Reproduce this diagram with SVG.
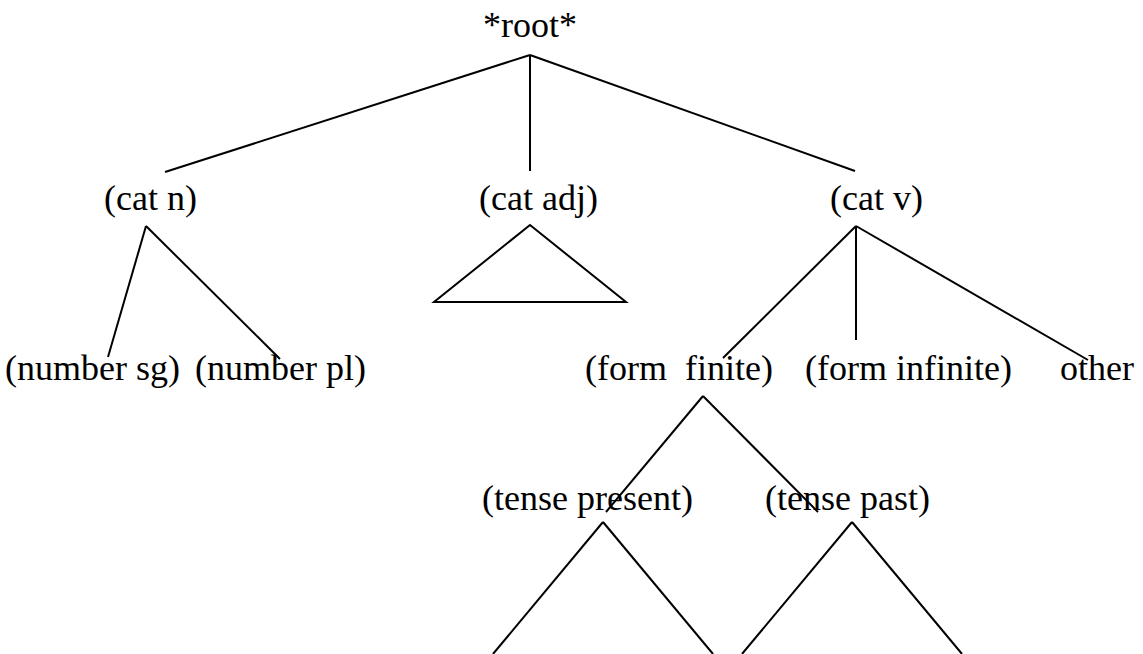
<svg xmlns="http://www.w3.org/2000/svg" width="1143" height="654" viewBox="0 0 1143 654">
<style>
text { font-family: "Liberation Serif", "Times New Roman", serif; font-size: 36px; fill: #000; white-space: pre; }
.e { stroke: #000; stroke-width: 2; fill: none; stroke-linecap: butt; }
</style>
<rect width="1143" height="654" fill="#fff"/>
<g id="connectors">
  <line class="e" x1="530" y1="55" x2="165" y2="172"/>
  <line class="e" x1="530" y1="55" x2="530" y2="171"/>
  <line class="e" x1="530" y1="55" x2="855" y2="171"/>
  <line class="e" x1="146" y1="226" x2="108" y2="357"/>
  <line class="e" x1="146" y1="226" x2="280" y2="359"/>
  <polygon class="e" points="530,225 434,302 626,302"/>
  <line class="e" x1="856" y1="226" x2="723" y2="358"/>
  <line class="e" x1="856" y1="226" x2="856" y2="340"/>
  <line class="e" x1="856" y1="226" x2="1088" y2="360"/>
  <line class="e" x1="703" y1="396" x2="606" y2="512"/>
  <line class="e" x1="703" y1="396" x2="818" y2="512"/>
  <line class="e" x1="603" y1="522" x2="493" y2="654"/>
  <line class="e" x1="603" y1="522" x2="713" y2="654"/>
  <line class="e" x1="852" y1="522" x2="742" y2="654"/>
  <line class="e" x1="852" y1="522" x2="962" y2="654"/>
</g>
<g id="root"><text x="483" y="37">*root*</text></g>
<g id="cat-n"><text x="104" y="210">(cat n)</text></g>
<g id="cat-adj"><text x="479" y="210">(cat adj)</text></g>
<g id="cat-v"><text x="830" y="210">(cat v)</text></g>
<g id="number-sg"><text x="5" y="380">(number sg)</text></g>
<g id="number-pl"><text x="195" y="380">(number pl)</text></g>
<g id="form-finite"><text x="585" y="380">(form  finite)</text></g>
<g id="form-infinite"><text x="805" y="380">(form infinite)</text></g>
<g id="other"><text x="1060" y="380">other</text></g>
<g id="tense-present"><text x="482" y="510">(tense present)</text></g>
<g id="tense-past"><text x="765" y="510">(tense past)</text></g>
</svg>
